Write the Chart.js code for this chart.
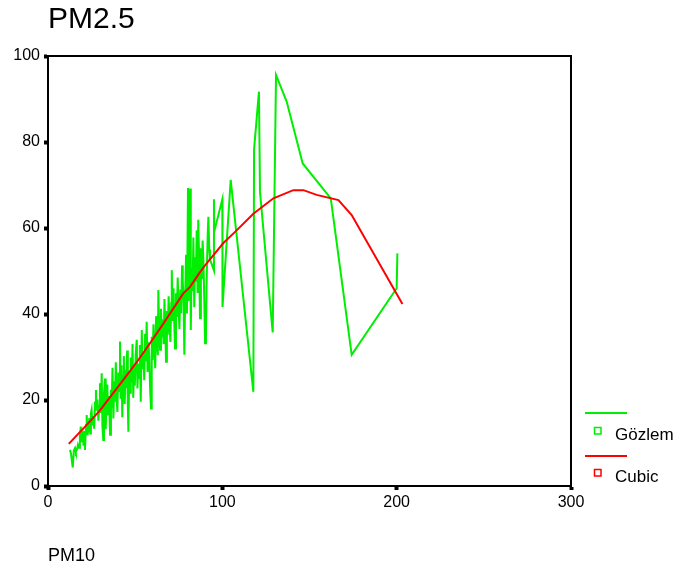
<!DOCTYPE html>
<html>
<head>
<meta charset="utf-8">
<title>PM2.5</title>
<script src="https://cdn.jsdelivr.net/npm/chart.js@4.4.1/dist/chart.umd.min.js"></script>
<style>
    html, body { margin: 0; padding: 0; background: #fff; }
    canvas { display: block; }
</style>
</head>
<body>
<canvas id="pmChart" width="675" height="571"></canvas>
<script>
const pm10Obs = [
    12.6, 13.2, 13.8, 14.2, 14.8, 15.5, 16.0, 16.6, 17.2, 17.8, 18.3, 18.8, 19.3, 19.9, 20.4, 21.0, 21.2, 21.8, 22.2, 22.7,
    23.2, 23.7, 24.2, 24.6, 25.0, 25.5, 26.0, 26.5, 27.0, 27.5, 27.9, 28.4, 28.9, 29.4, 29.8, 30.3, 30.8, 31.2, 31.7, 32.1, 32.7, 33.1, 33.6,
    34.0, 34.5, 35.0, 35.6, 36.1, 36.5, 37.0, 37.5, 38.0, 38.4, 38.9, 39.3, 39.8, 40.3, 40.8, 41.3, 41.7, 42.2, 42.6, 43.1, 43.5, 44.0, 44.5, 44.9,
    45.4, 45.8, 46.1, 46.6, 47.1, 47.5, 48.0, 48.5, 48.9, 49.4, 49.8, 50.3, 50.9, 51.3, 51.8, 52.2, 52.7, 53.2, 53.8, 54.2, 54.7, 55.2, 55.7, 56.1,
    56.6, 57.1, 57.6, 58.1, 58.6, 59.1, 59.5, 60.0, 60.5, 61.0, 61.5, 62.0, 62.5, 63.0, 63.3, 63.8, 64.3, 64.8, 65.3, 65.8, 66.3, 66.8, 67.3, 67.7,
    68.2, 68.7, 69.2, 69.7, 70.2, 70.7, 71.0, 71.5, 72.0, 72.5, 72.9, 73.4, 73.9, 74.4, 74.9, 75.4, 75.9, 76.4, 76.9, 77.3, 77.8, 78.2, 78.7, 79.2, 79.7,
    80.3, 80.6, 81.0, 81.5, 81.9, 82.4, 82.9, 83.4, 83.9, 84.4, 84.8, 85.3, 85.8, 86.2, 86.7, 87.2, 87.7, 88.2, 88.7, 89.2, 89.6, 90.1, 90.6, 91.1, 91.6, 92.0, 92.5, 92.9,
    95.2, 95.2, 95.3, 100.0, 100.1, 104.8, 117.8, 118.2, 121.0, 121.6, 128.9, 130.8, 136.9, 146.1, 162.2, 174.2, 200.0, 200.4
];
const pm25Obs = [
    8.4, 7.5, 5.5, 4.3, 8.2, 8.8, 7.9, 8.5, 9.6, 8.9, 11.5, 13.8, 10.2, 11.9, 9.4, 12.8, 8.4, 14.2, 16.5, 11.8,
    13.5, 15.8, 12.2, 16.9, 17.7, 14.1, 16.2, 13.3, 19.4, 22.3, 17.5, 20.1, 15.2, 18.6, 23.9, 17.0, 26.2, 14.0, 10.7, 21.5, 25.0, 13.2, 19.8,
    23.6, 16.4, 20.9, 11.9, 22.4, 18.1, 27.5, 15.7, 24.3, 19.6, 28.8, 21.0, 17.2, 26.4, 22.1, 33.6, 20.3, 28.1, 16.0, 25.5, 30.2, 19.1, 27.0, 22.8,
    31.5, 18.4, 12.6, 26.3, 21.7, 29.9, 24.1, 33.0, 20.5, 27.8, 23.4, 30.6, 34.0, 22.7, 28.4, 25.1, 32.8, 19.6, 36.3, 27.2, 31.1, 24.6, 35.4, 29.0,
    38.2, 26.5, 33.4, 30.0, 22.4, 18.0, 34.7, 29.3, 37.6, 32.1, 27.4, 39.5, 33.8, 30.4, 45.6, 35.9, 31.7, 41.2, 34.6, 38.8, 33.0, 43.5, 36.1, 28.9,
    40.7, 35.2, 44.1, 37.8, 33.5, 42.6, 50.2, 38.4, 46.0, 36.9, 32.0, 44.8, 39.3, 48.5, 41.0, 36.5, 45.7, 40.2, 51.3, 47.9, 42.4, 30.5, 44.6, 53.8, 40.1,
    69.3, 43.0, 56.2, 69.2, 36.3, 50.7, 45.3, 57.8, 41.6, 53.2, 47.5, 59.5, 44.9, 61.9, 52.4, 39.0, 55.3, 48.1, 57.1, 51.6, 44.3, 33.2, 35.0, 49.7, 58.4, 62.6, 55.0, 52.7,
    50.1, 66.7, 59.1, 66.7, 41.6, 71.2, 21.9, 78.3, 91.7, 68.4, 35.7, 95.6, 89.4, 75.0, 66.9, 30.5, 46.0, 54.1
];

// cubic fit
const pm10Fit = [11.9, 22.2, 29.8, 43.2, 51.8, 58.5, 66.2, 77.6, 81.5, 86.8, 91.0, 100.6, 107.3, 117.8, 129.3, 140.7, 146.5, 154.1, 166.6, 174.2, 203.3];
const pm25Fit = [9.8, 14.2, 17.6, 24.7, 29.3, 33.2, 37.8, 44.8, 46.3, 49.5, 51.8, 56.5, 59.1, 63.3, 66.9, 68.8, 68.8, 67.7, 66.5, 63.0, 42.3];

const xTicks = [0, 100, 200, 300];
const yTicks = [0, 20, 40, 60, 80, 100];
const seriesNames = ['Gözlem', 'Cubic'];
const seriesColors = ['#00ee00', '#ff0000'];

const fontFamily = '"Liberation Sans", Arial, Helvetica, sans-serif';
Chart.defaults.font.family = fontFamily;
Chart.defaults.color = '#000';

// top and right sides of the frame
const framePlugin = {
    id: 'frame',
    afterDraw(chart) {
        const { ctx, chartArea } = chart;
        ctx.save();
        ctx.strokeStyle = '#000';
        ctx.lineWidth = 2;
        ctx.beginPath();
        ctx.moveTo(chartArea.left, chartArea.top);
        ctx.lineTo(chartArea.right, chartArea.top);
        ctx.lineTo(chartArea.right, chartArea.bottom);
        ctx.stroke();
        ctx.restore();
    }
};

// SPSS style legend: line on top, small square with label below
const sideLegend = {
    id: 'sideLegend',
    afterDraw(chart) {
        const ctx = chart.ctx;
        chart.data.datasets.forEach((ds, i) => {
            const top = 413 + i * 43;
            ctx.save();
            ctx.strokeStyle = ds.borderColor;
            ctx.lineWidth = 2;
            ctx.beginPath();
            ctx.moveTo(585, top);
            ctx.lineTo(627, top);
            ctx.stroke();
            ctx.lineWidth = 1.5;
            ctx.strokeRect(594.5, top + 14.5 - i, 6.5, 6.5);
            ctx.fillStyle = '#000';
            ctx.font = '17px ' + fontFamily;
            ctx.textBaseline = 'alphabetic';
            ctx.fillText(ds.label, 615, top + 27 - i);
            ctx.restore();
        });
    }
};

const tickStyle = { drawOnChartArea: false, tickLength: 4, tickWidth: 4, tickColor: '#000' };

new Chart(document.getElementById('pmChart'), {
    type: 'scatter',
    data: {
        datasets: [{
            label: seriesNames[0],
            data: pm10Obs.map((x, i) => ({ x: x, y: pm25Obs[i] })),
            showLine: true,
            borderColor: seriesColors[0],
            backgroundColor: seriesColors[0],
            borderWidth: 2,
            pointRadius: 0,
            tension: 0,
            order: 1
        }, {
            label: seriesNames[1],
            data: pm10Fit.map((x, i) => ({ x: x, y: pm25Fit[i] })),
            showLine: true,
            borderColor: seriesColors[1],
            backgroundColor: seriesColors[1],
            borderWidth: 2,
            pointRadius: 0,
            tension: 0,
            order: 0
        }]
    },
    options: {
        responsive: false,
        animation: false,
        layout: { padding: { top: 0, right: 104, bottom: 0, left: 0 } },
        plugins: {
            legend: { display: false },
            tooltip: { enabled: false },
            title: {
                display: true,
                text: 'PM2.5',
                align: 'start',
                fullSize: false,
                color: '#000',
                font: { size: 30, weight: 'normal' },
                padding: { top: 2, bottom: 18 }
            }
        },
        scales: {
            x: {
                type: 'linear',
                min: 0,
                max: 300,
                afterBuildTicks: s => { s.ticks = xTicks.map(v => ({ value: v })); },
                afterFit: s => { s.height = 85; },
                grid: tickStyle,
                border: { color: '#000', width: 2 },
                ticks: { color: '#000', font: { size: 16 }, padding: 3, maxRotation: 0 },
                title: {
                    display: true,
                    text: 'PM10',
                    align: 'start',
                    color: '#000',
                    font: { size: 18 },
                    padding: { top: 0, bottom: 4 }
                }
            },
            y: {
                min: 0,
                max: 100,
                afterBuildTicks: s => { s.ticks = yTicks.map(v => ({ value: v })); },
                afterFit: s => { s.width = 48; },
                grid: tickStyle,
                border: { color: '#000', width: 2 },
                ticks: { color: '#000', font: { size: 16 }, padding: 4 }
            }
        }
    },
    plugins: [framePlugin, sideLegend]
});
</script>
</body>
</html>
